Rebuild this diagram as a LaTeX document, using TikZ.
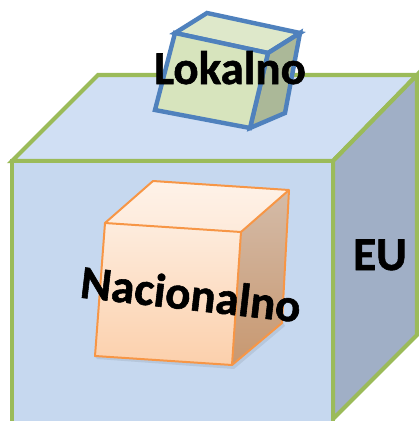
\documentclass[tikz,border=0pt]{standalone}
\usepackage{fontspec}
\setmainfont{Carlito}
\newfontfamily\heavyfont[FakeBold=1.2]{Carlito Bold}
\definecolor{eugreen}{HTML}{9BBB59}
\definecolor{eutop}{HTML}{D0DFF4}
\definecolor{eufront}{HTML}{C6D8EF}
\definecolor{euright}{HTML}{A0AFC6}
\definecolor{lokblue}{HTML}{4F81BD}
\definecolor{lokfront}{HTML}{D7E4BD}
\definecolor{loktop}{HTML}{DEE8CA}
\definecolor{lokright}{HTML}{ABB898}
\definecolor{naedge}{HTML}{F79646}
\tikzset{
  eucube/.style={draw=eugreen, line width=4.2pt, line join=miter},
  lokcube/.style={draw=lokblue, line width=4.4pt, line join=miter},
  nacube/.style={draw=naedge, line width=2pt, line join=round},
  bigtext/.style={font=\heavyfont\fontsize{47}{47}\selectfont, text=black, inner sep=0pt, anchor=base}
}
\begin{document}
\begin{tikzpicture}[x=1pt,y=-1pt]
\useasboundingbox (0,0) rectangle (419,421);
\fill[white] (0,0) rectangle (419,421);
% EU cube
\filldraw[eucube, fill=eutop] (12,161) -- (98,75) -- (417,75) -- (333,161) -- cycle;
\filldraw[eucube, fill=euright] (333,161) -- (417,75) -- (417,335) -- (333,419) -- cycle;
\filldraw[eucube, fill=eufront] (12,161) rectangle (333,425);
% Lokalno cube
\filldraw[lokcube, fill=loktop] (175,33) -- (207,13) -- (300,33) -- (268,53) -- cycle;
\filldraw[lokcube, fill=lokright] (268,53) -- (300,33) -- (285,113) -- (250,128) -- cycle;
\filldraw[lokcube, fill=lokfront] (175,33) -- (268,53) -- (250,128) -- (155,110) -- cycle;
% Nacionalno cube shadow
\fill[black, opacity=0.08] (97,359) -- (234,369) -- (285,326) -- (283,322) -- (232,364) -- (95,356) -- cycle;
% Nacionalno cube
\shade[top color=white!88!naedge, bottom color=white!80!naedge] (105,223) -- (153,181) -- (289,190) -- (241,232) -- cycle;
\shade[top color=white!82!naedge, bottom color=white!55!naedge] (105,223) -- (241,232) -- (232,365) -- (95,356) -- cycle;
\shade[top color={rgb,255:red,212;green,187;blue,168}, bottom color={rgb,255:red,200;green,152;blue,112}] (241,232) -- (289,190) -- (282,323) -- (232,365) -- cycle;
\draw[nacube] (105,223) -- (153,181) -- (289,190) -- (282,323) -- (232,365) -- (95,356) -- cycle;
\draw[nacube] (105,223) -- (241,232) -- (289,190);
\draw[nacube] (241,232) -- (232,365);
% texts
\node[bigtext] (lokalno) at (230,84) {Lokalno};
\node[bigtext] (eu) at (380,270) {EU};
\node[bigtext, rotate=-6.5] (nacionalno) at (189,310) {Nacionalno};
\end{tikzpicture}
\end{document}
